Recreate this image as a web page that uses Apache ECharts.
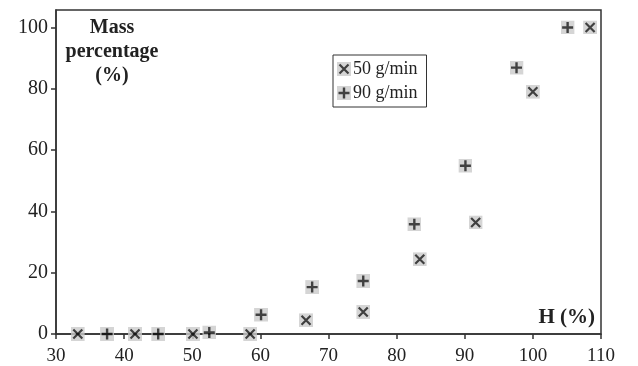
<!DOCTYPE html>
<html>
<head>
<meta charset="utf-8"/>
<title>Mass percentage vs H</title>
<script type="text/javascript" src="https://cdn.jsdelivr.net/npm/echarts@6/dist/echarts.min.js"></script>
<style type="text/css">
	body{
		margin: 0px;
		padding: 0px;
		background: #fff;
	}
	#chart {
		width: 638px;
		height: 366px;
	}
</style>
</head>
<body>
	<div id="chart"></div>
<script type="text/javascript">
	// 数据
	var series_names = ['50 g/min', '90 g/min'];
	var h_50 = [33.2, 41.6, 50.1, 58.5, 66.7, 75.1, 83.4, 91.6, 100.0, 108.4];
	var mass_50 = [0, 0, 0, 0, 4.5, 7.2, 24.4, 36.4, 79.0, 100];
	var h_90 = [37.5, 45.0, 52.5, 60.1, 67.6, 75.1, 82.6, 90.1, 97.6, 105.1];
	var mass_90 = [0, 0, 0.5, 6.3, 15.3, 17.3, 35.8, 54.9, 86.9, 100];
	var x_ticks = [30, 40, 50, 60, 70, 80, 90, 100, 110];
	var y_ticks = [0, 20, 40, 60, 80, 100];

	var serif = "'Liberation Serif', 'DejaVu Serif', serif";

	// 灰底标记
	function markerSymbol(kind){
		var glyph = kind == 'x'
			? '<path d="M2.5 2.5L11.5 11.5M11.5 2.5L2.5 11.5" stroke="#111" stroke-width="2.2" fill="none"/>'
			: '<path d="M7 1.5V12.5M1.5 7H12.5" stroke="#111" stroke-width="2.4" fill="none"/>';
		var svg = '<svg xmlns="http://www.w3.org/2000/svg" width="14" height="14" viewBox="0 0 14 14">'
			+ '<rect width="14" height="14" fill="#cbcbcb"/>' + glyph + '</svg>';
		return 'image://data:image/svg+xml;charset=utf-8,' + encodeURIComponent(svg);
	}

	function pairs(xs, ys){
		var out = [];
		for(var i=0;i<xs.length;i++){
			out.push([xs[i], ys[i]]);
		}
		return out;
	}

	var myChart = echarts.init(document.getElementById('chart'), null, {renderer: 'canvas'});
	var option = {
		animation: false,
		grid: {
			left: 56,
			right: 37,
			top: 10,
			bottom: 32,
			show: true,
			borderColor: '#333',
			borderWidth: 1.5,
			containLabel: false
		},
		xAxis: {
			type: 'value',
			min: 30,
			max: 110,
			interval: 10,
			splitLine: {show: false},
			axisLine: {show: true, onZero: false, lineStyle: {color: '#333', width: 1.5}},
			axisTick: {show: true, inside: false, length: 5, lineStyle: {color: '#333', width: 1.5}},
			axisLabel: {
				margin: 13,
				color: '#222',
				fontFamily: serif,
				fontSize: 19,
				customValues: x_ticks
			}
		},
		yAxis: {
			type: 'value',
			min: 0,
			max: 105.7,
			splitLine: {show: false},
			axisLine: {show: true, lineStyle: {color: '#333', width: 1.5}},
			axisTick: {show: true, inside: false, length: 5, customValues: y_ticks, lineStyle: {color: '#333', width: 1.5}},
			axisLabel: {
				margin: 8,
				color: '#222',
				fontFamily: serif,
				fontSize: 20,
				customValues: y_ticks
			}
		},
		legend: {
			orient: 'vertical',
			left: 333,
			top: 55,
			padding: [5, 9, 5, 4],
			itemGap: 6,
			itemWidth: 14,
			itemHeight: 14,
			borderColor: '#333',
			borderWidth: 1,
			backgroundColor: '#fff',
			textStyle: {fontFamily: serif, fontSize: 18, color: '#222', padding: [0, 0, 0, -3]},
			data: [
				{name: series_names[0], icon: markerSymbol('x')},
				{name: series_names[1], icon: markerSymbol('+')}
			]
		},
		graphic: [
			{
				type: 'text',
				x: 112,
				y: 16,
				style: {
					text: 'Mass\npercentage\n(%)',
					align: 'center',
					verticalAlign: 'top',
					fontFamily: serif,
					fontWeight: 'bold',
					fontSize: 20,
					lineHeight: 24,
					fill: '#222'
				}
			},
			{
				type: 'text',
				x: 595,
				y: 318,
				style: {
					text: 'H (%)',
					align: 'right',
					verticalAlign: 'middle',
					fontFamily: serif,
					fontWeight: 'bold',
					fontSize: 21,
					fill: '#222'
				}
			}
		],
		series: [
			{
				name: series_names[0],
				type: 'scatter',
				symbol: markerSymbol('x'),
				symbolSize: 14,
				data: pairs(h_50, mass_50)
			},
			{
				name: series_names[1],
				type: 'scatter',
				symbol: markerSymbol('+'),
				symbolSize: 14,
				data: pairs(h_90, mass_90)
			}
		]
	};
	myChart.setOption(option);
</script>
</body>
</html>
